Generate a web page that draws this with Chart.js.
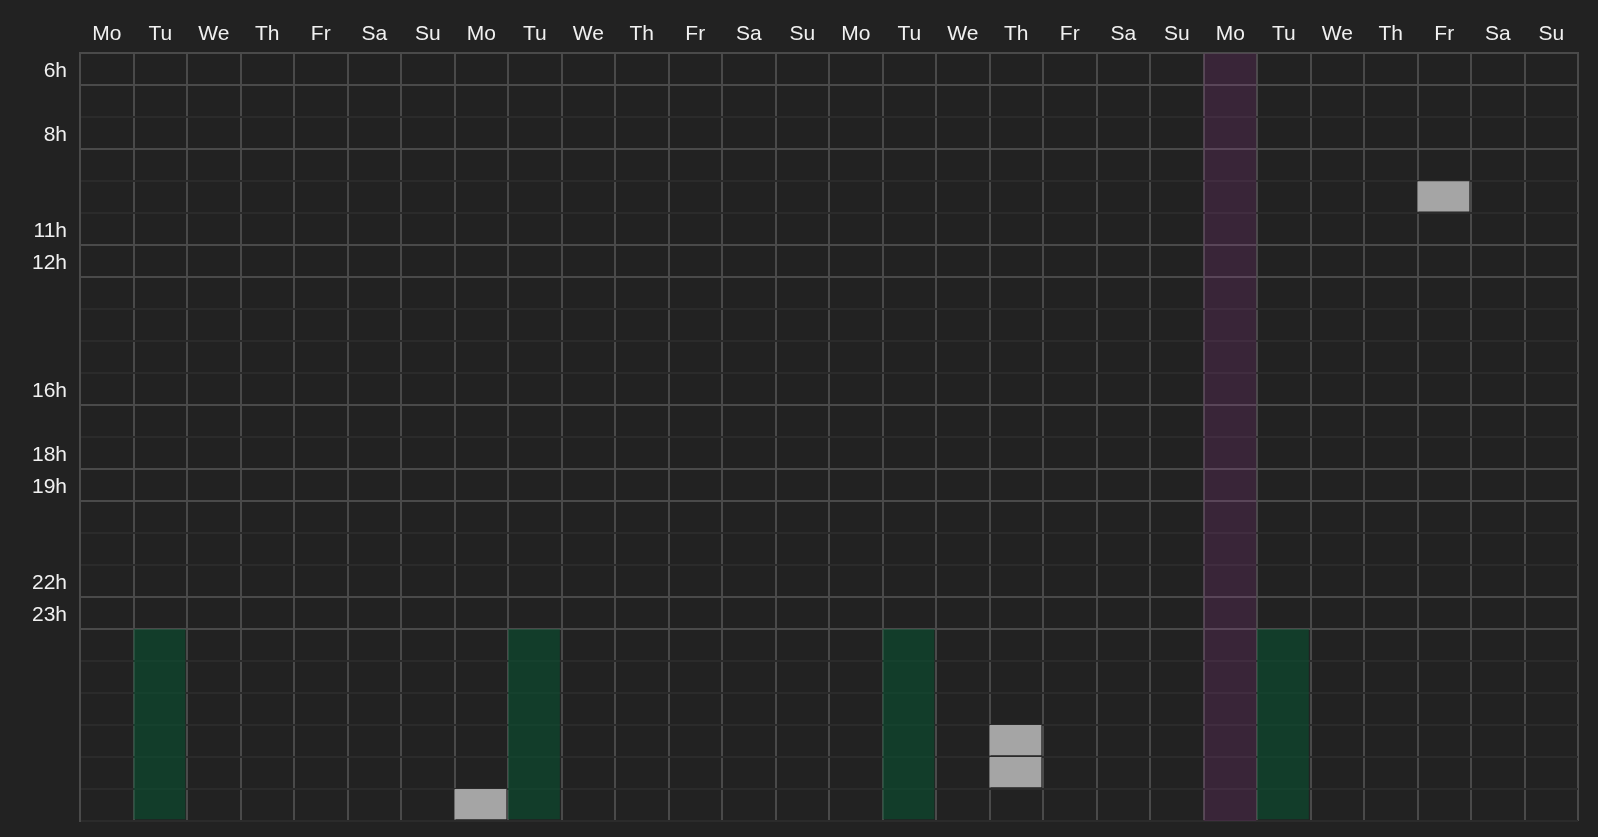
<!DOCTYPE html>
<html>
<head>
<meta charset="utf-8">
<script src="https://cdn.jsdelivr.net/npm/chart.js@4/dist/chart.umd.min.js"></script>
<style>
  html, body { margin: 0; padding: 0; background: #222222; }
  #wrap { width: 1598px; height: 837px; position: relative; }
</style>
</head>
<body>
<div id="wrap"><canvas id="c"></canvas></div>
<script>
// Day columns (4 weeks)
const columns = ['Mo','Tu','We','Th','Fr','Sa','Su','Mo','Tu','We','Th','Fr','Sa','Su',
                 'Mo','Tu','We','Th','Fr','Sa','Su','Mo','Tu','We','Th','Fr','Sa','Su'];
// Hours shown as labels / strong grid lines (values past 24 = next morning)
const hourLabels = [6, 8, 11, 12, 16, 18, 19, 22, 23];
const hourMin = 5;
const hourMax = 29;

// Purple full-day column
const purpleBars = [null,null,null,null,null,null,null, null,null,null,null,null,null,null,
                    null,null,null,null,null,null,null, [5,29],null,null,null,null,null,null];
// Green night blocks
const greenBars  = [null,[23,29],null,null,null,null,null, null,[23,29],null,null,null,null,null,
                    null,[23,29],null,null,null,null,null, null,[23,29],null,null,null,null,null];
// Gray events
const grayBarsA  = [null,null,null,null,null,null,null, [28,29],null,null,null,null,null,null,
                    null,null,null,[26,27],null,null,null, null,null,null,null,[9,10],null,null];
const grayBarsB  = [null,null,null,null,null,null,null, null,null,null,null,null,null,null,
                    null,null,null,[27,28],null,null,null, null,null,null,null,null,null,null];

const strong = '#4a4a4a';
const faint = '#2b2b2b';
const textColor = '#f0f0f0';
const fontFamily = '"Liberation Sans", Arial, Helvetica, sans-serif';
const inset = { top: 0, left: 0, right: 2, bottom: 2 };

const common = { grouped: false, barPercentage: 1, categoryPercentage: 1, borderSkipped: false };

new Chart(document.getElementById('c'), {
  type: 'bar',
  data: {
    labels: columns,
    datasets: [
      Object.assign({ label: 'purple', data: purpleBars, backgroundColor: 'rgba(168,58,158,0.18)',
        borderColor: 'rgba(0,0,0,0)', borderWidth: { top: 0, left: 0, right: 1, bottom: 0 } }, common),
      Object.assign({ label: 'green', data: greenBars, backgroundColor: 'rgba(0,92,51,0.47)',
        borderColor: 'rgba(0,0,0,0)', borderWidth: inset }, common),
      Object.assign({ label: 'grayA', data: grayBarsA, backgroundColor: '#a5a5a5',
        borderColor: 'rgba(0,0,0,0)', borderWidth: inset }, common),
      Object.assign({ label: 'grayB', data: grayBarsB, backgroundColor: '#a5a5a5',
        borderColor: 'rgba(0,0,0,0)', borderWidth: inset }, common)
    ]
  },
  options: {
    responsive: true,
    maintainAspectRatio: false,
    animation: false,
    layout: { padding: { top: 16, left: 19, right: 20, bottom: 16 } },
    plugins: { legend: { display: false }, tooltip: { enabled: false } },
    scales: {
      x: {
        position: 'top',
        grid: { color: strong, lineWidth: 2, drawTicks: false, offset: true },
        border: { color: strong, width: 2 },
        ticks: {
          color: textColor, font: { family: fontFamily, size: 21 }, padding: 6,
          autoSkip: false, maxRotation: 0,
          callback: (v, i) => columns[i]
        }
      },
      y: {
        reverse: true,
        min: hourMin,
        max: hourMax,
        afterFit: scale => { scale.paddingTop = 0; scale.paddingBottom = 0; },
        grid: {
          drawTicks: false,
          color: ctx => (ctx.tick && (hourLabels.includes(ctx.tick.value) || ctx.tick.value === hourMin)) ? strong : faint,
          lineWidth: 2
        },
        border: { color: strong, width: 2 },
        ticks: {
          stepSize: 1, autoSkip: false, padding: 13, labelOffset: -14,
          color: textColor, font: { family: fontFamily, size: 21 },
          callback: v => hourLabels.includes(v) ? v + 'h' : ''
        }
      }
    }
  }
});
</script>
</body>
</html>
